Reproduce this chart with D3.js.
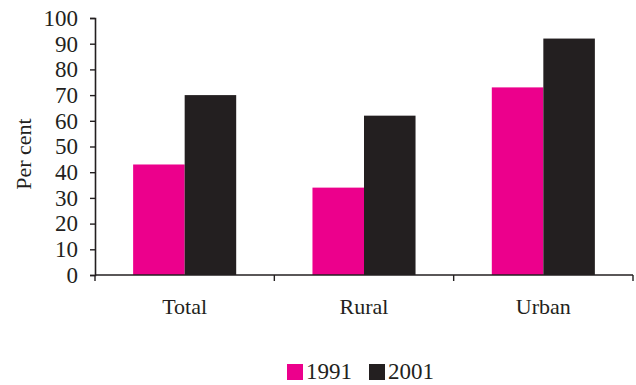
<!DOCTYPE html>
<html lang="en">
<head>
<meta charset="UTF-8">
<title>Chart</title>
<style>
body { margin: 0; background: #fff; }
#chart { width: 636px; height: 385px; }
</style>
</head>
<body>
<div id="chart"></div>
<script src="https://cdnjs.cloudflare.com/ajax/libs/d3/7.8.5/d3.min.js"></script>
<script>
var categories = ["Total", "Rural", "Urban"];
var series = ["1991", "2001"];
var values1991 = [43, 34, 73];
var values2001 = [70, 62, 92];
var yTicks = [0, 10, 20, 30, 40, 50, 60, 70, 80, 90, 100];
var colors = ["#ec008c", "#231f20"];

var FONT = "'Liberation Serif', 'Times New Roman', serif";
var width = 636, height = 385;
var margin = { top: 18, left: 95, right: 3, bottom: 110 };
var plotW = width - margin.left - margin.right;
var plotH = height - margin.top - margin.bottom;

var svg = d3.select('#chart').append('svg')
  .attr('width', width)
  .attr('height', height);

var g = svg.append('g')
  .attr('transform', 'translate(' + margin.left + ',' + margin.top + ')');

var x = d3.scaleBand().domain(categories).range([0, plotW]).padding(0);
var x1 = d3.scaleBand().domain(series).range([0, x.bandwidth()]).paddingInner(0).paddingOuter(0.74);
var y = d3.scaleLinear().domain([0, 100]).range([plotH, 0]);

var data = categories.map(function (c, i) {
  return { cat: c, vals: [values1991[i], values2001[i]] };
});

// bars
var groups = g.selectAll('.grp')
  .data(data)
  .enter().append('g')
  .attr('transform', function (d) { return 'translate(' + x(d.cat) + ',0)'; });

groups.selectAll('rect')
  .data(function (d) { return d.vals.map(function (v, j) { return { s: series[j], v: v, j: j }; }); })
  .enter().append('rect')
  .attr('x', function (d) { return x1(d.s); })
  .attr('width', x1.bandwidth())
  .attr('y', function (d) { return y(d.v); })
  .attr('height', function (d) { return plotH - y(d.v); })
  .attr('fill', function (d) { return colors[d.j]; });

// y axis
var yAxis = g.append('g')
  .call(d3.axisLeft(y).tickValues(yTicks).tickSize(5).tickPadding(12));
yAxis.select('.domain').attr('stroke', '#231f20').attr('stroke-width', 1.6);
yAxis.selectAll('.tick line').attr('stroke', '#231f20').attr('stroke-width', 1.4);
yAxis.selectAll('text')
  .style('font-family', FONT).style('font-size', '23px')
  .attr('fill', '#231f20');

// x axis: ticks at band edges
var xAxis = g.append('g').attr('transform', 'translate(0,' + plotH + ')');
xAxis.append('line')
  .attr('x1', 0).attr('x2', plotW)
  .attr('stroke', '#231f20').attr('stroke-width', 1.6);
var edges = categories.map(function (c) { return x(c); }).concat([plotW]);
xAxis.selectAll('.edge')
  .data(edges)
  .enter().append('line')
  .attr('x1', function (d) { return d; }).attr('x2', function (d) { return d; })
  .attr('y1', 0).attr('y2', 6)
  .attr('stroke', '#231f20').attr('stroke-width', 1.4);
xAxis.selectAll('.lab')
  .data(categories)
  .enter().append('text')
  .attr('x', function (d) { return x(d) + x.bandwidth() / 2; })
  .attr('y', 39)
  .attr('text-anchor', 'middle')
  .style('font-family', FONT).style('font-size', '22px')
  .attr('fill', '#231f20')
  .text(function (d) { return d; });

// y label
svg.append('text')
  .attr('transform', 'translate(31,' + (margin.top + 136) + ') rotate(-90)')
  .attr('text-anchor', 'middle')
  .style('font-family', FONT).style('font-size', '22px')
  .attr('fill', '#231f20')
  .text('Per cent');

// legend
var legend = svg.append('g').attr('transform', 'translate(287,364)');
var items = legend.selectAll('.item')
  .data(series)
  .enter().append('g')
  .attr('transform', function (d, i) { return 'translate(' + (i * 82) + ',0)'; });
items.append('rect')
  .attr('width', 16).attr('height', 16)
  .attr('fill', function (d, i) { return colors[i]; });
items.append('text')
  .attr('x', 19).attr('y', 15)
  .style('font-family', FONT).style('font-size', '23px')
  .attr('fill', '#231f20')
  .text(function (d) { return d; });
</script>
</body>
</html>
